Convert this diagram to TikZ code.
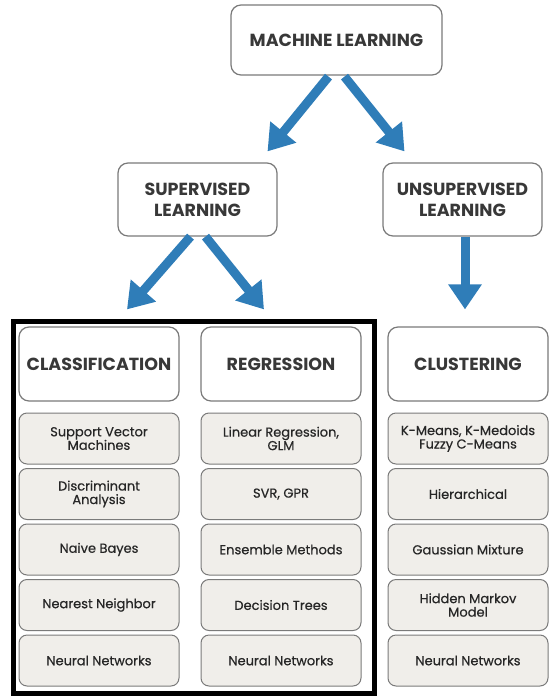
\documentclass[tikz,border=0pt]{standalone}
\usepackage{fontspec}
\setmainfont{Poppins}
\newfontfamily\methodfont{Poppins}[FakeBold=0.5]
\usetikzlibrary{arrows.meta}

\definecolor{mlblue}{HTML}{2F7DB8}
\definecolor{boxgray}{HTML}{F0EEEA}
\definecolor{edgegray}{HTML}{7A7A7A}
\definecolor{titlegray}{HTML}{383838}

\begin{document}
\begin{tikzpicture}[x=1pt,y=-1pt,
  topic/.style={draw=edgegray, line width=1.2pt, rounded corners=10pt, fill=white,
    text=titlegray, align=center, inner sep=0pt,
    font=\fontsize{17.5}{21}\selectfont\bfseries},
  method/.style={draw=edgegray, line width=1pt, rounded corners=8pt, fill=boxgray,
    text=black!85, align=center, inner sep=0pt, minimum width=160pt, minimum height=51pt,
    font=\methodfont\fontsize{13}{13.5}\selectfont},
  flow/.style={draw=mlblue, line width=9pt, -{Triangle[width=32pt,length=25pt]}}]
  \useasboundingbox (0,0) rectangle (559,699);

  % top levels
  \node (ml)           at (336.5,40)  [topic, minimum width=211pt, minimum height=70pt] {MACHINE LEARNING};
  \node (supervised)   at (197.5,199.5) [topic, minimum width=159pt, minimum height=73pt] {SUPERVISED\\LEARNING};
  \node (unsupervised) at (462.5,199.5) [topic, minimum width=159pt, minimum height=73pt] {UNSUPERVISED\\LEARNING};

  % task headers
  \node (classification) at (99,364)  [topic, minimum width=160pt, minimum height=74pt] {CLASSIFICATION};
  \node (regression)     at (281,364) [topic, minimum width=160pt, minimum height=74pt] {REGRESSION};
  \node (clustering)     at (468,364) [topic, minimum width=160pt, minimum height=74pt] {CLUSTERING};

  % classification methods
  \node (svm)          at (99,438.5) [method] {Support Vector\\Machines};
  \node (discriminant) at (99,494)   [method] {Discriminant\\Analysis};
  \node (bayes)        at (99,549.5) [method] {Naive Bayes};
  \node (knn)          at (99,605)   [method] {Nearest Neighbor};
  \node (nnclass)      at (99,660.5) [method] {Neural Networks};

  % regression methods
  \node (linreg)   at (281,438.5) [method] {Linear Regression,\\GLM};
  \node (svr)      at (281,494)   [method] {SVR, GPR};
  \node (ensemble) at (281,549.5) [method] {Ensemble Methods};
  \node (trees)    at (281,605)   [method] {Decision Trees};
  \node (nnreg)    at (281,660.5) [method] {Neural Networks};

  % clustering methods
  \node (kmeans)       at (468,438.5) [method] {K-Means, K-Medoids\\Fuzzy C-Means};
  \node (hierarchical) at (468,494)   [method] {Hierarchical};
  \node (gmm)          at (468,549.5) [method] {Gaussian Mixture};
  \node (hmm)          at (468,605)   [method] {Hidden Markov\\Model};
  \node (nnclust)      at (468,660.5) [method] {Neural Networks};

  \draw[line width=5pt] (13,321) rectangle (374,693);

  \draw[flow] ([xshift=-8pt,yshift=-1pt]ml.south) -- ([xshift=70pt,yshift=11pt]supervised.north);
  \draw[flow] ([xshift=8pt,yshift=-1pt]ml.south) -- ([xshift=-58pt,yshift=11pt]unsupervised.north);
  \draw[flow] ([xshift=-7pt]supervised.south) -- ([xshift=28pt,yshift=17pt]classification.north);
  \draw[flow] ([xshift=8pt]supervised.south) -- ([xshift=-17pt,yshift=17pt]regression.north);
  \draw[flow] ([xshift=2.5pt]unsupervised.south) -- ([xshift=-3pt,yshift=17pt]clustering.north);
\end{tikzpicture}
\end{document}
